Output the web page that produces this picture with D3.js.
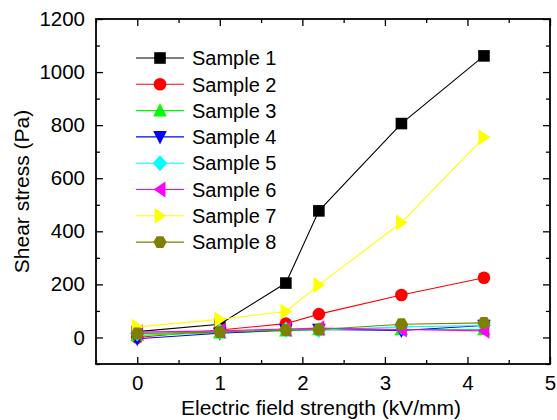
<!DOCTYPE html>
<html>
<head>
<meta charset="utf-8">
<script src="https://cdn.jsdelivr.net/npm/d3@7"></script>
<style>
  html, body { margin: 0; padding: 0; background: #fff; }
  svg { display: block; font-family: "Liberation Sans", Arial, sans-serif; }
</style>
</head>
<body>
<svg id="chart" width="557" height="420"></svg>
<script>
// Electric field strength (kV/mm) at which each sample was measured
const fieldStrength = [0, 1, 1.8, 2.2, 3.2, 4.2];

// Shear stress (Pa) per sample
const sample1 = [22, 50, 205, 477, 806, 1061];
const sample2 = [0, 28, 52, 88, 160, 225];
const sample3 = [8, 18, 25, 30, 30, 30];
const sample4 = [-5, 16, 28, 30, 26, 45];
const sample5 = [15, 22, 30, 28, 40, 45];
const sample6 = [20, 25, 32, 35, 30, 25];
const sample7 = [40, 68, 98, 198, 433, 754];
const sample8 = [15, 20, 28, 30, 50, 55];

const seriesNames = ["Sample 1", "Sample 2", "Sample 3", "Sample 4",
                     "Sample 5", "Sample 6", "Sample 7", "Sample 8"];
const seriesValues = [sample1, sample2, sample3, sample4,
                      sample5, sample6, sample7, sample8];
const seriesColors = ["#000000", "#ff0000", "#00ff00", "#0000ff",
                      "#00ffff", "#ff00ff", "#ffff00", "#808000"];
const seriesShapes = ["square", "circle", "triangleUp", "triangleDown",
                      "diamond", "triangleLeft", "triangleRight", "hexagon"];

const xTicks = [0, 1, 2, 3, 4, 5];
const yTicks = [0, 200, 400, 600, 800, 1000, 1200];
const xMinorTicks = [-0.5, 0.5, 1.5, 2.5, 3.5, 4.5];
const yMinorTicks = [-100, 100, 300, 500, 700, 900, 1100];

const xLabel = "Electric field strength (kV/mm)";
const yLabel = "Shear stress (Pa)";

// ---- layout ----
const plotLeft = 96, plotRight = 550, plotTop = 19, plotBottom = 364;
const svg = d3.select("#chart");

const x = d3.scaleLinear().domain([-0.5, 5]).range([plotLeft, plotRight]);
const y = d3.scaleLinear().domain([-100, 1200]).range([plotBottom, plotTop]);

// custom marker shapes; "size" is used as the half-width in px
function polygon(pts) {
  return { draw(ctx, r) {
    pts.forEach((p, i) => i ? ctx.lineTo(p[0] * r, p[1] * r) : ctx.moveTo(p[0] * r, p[1] * r));
    ctx.closePath();
  }};
}
const shapeTypes = {
  square: polygon([[-1, -1], [1, -1], [1, 1], [-1, 1]]),
  circle: { draw(ctx, r) { ctx.moveTo(r, 0); ctx.arc(0, 0, r, 0, 2 * Math.PI); } },
  triangleUp: polygon([[0, -1.1], [1, 0.85], [-1, 0.85]]),
  triangleDown: polygon([[0, 1.1], [1, -0.85], [-1, -0.85]]),
  diamond: polygon([[0, -1.1], [1, 0], [0, 1.1], [-1, 0]]),
  triangleLeft: polygon([[-1, 0], [0.85, -1.25], [0.85, 1.25]]),
  triangleRight: polygon([[1, 0], [-0.85, -1.25], [-0.85, 1.25]]),
  hexagon: polygon([[-1, 0], [-0.5, -0.9], [0.5, -0.9], [1, 0], [0.5, 0.9], [-0.5, 0.9]])
};
const shapeRadius = {
  square: 5.8, circle: 6.3, triangleUp: 6.8, triangleDown: 6.8,
  diamond: 7.3, triangleLeft: 6.4, triangleRight: 6.4, hexagon: 6.6
};
const marker = shape => d3.symbol().type(shapeTypes[shape]).size(shapeRadius[shape])();

// ---- axes (ticks point inward on all four sides) ----
const tickFont = "20.5px";
function styleAxis(g) {
  g.select(".domain").remove();
  g.selectAll("line").attr("stroke", "#000").attr("stroke-width", 1.3);
  g.selectAll("text").attr("fill", "#000").style("font-size", tickFont)
    .style("font-family", '"Liberation Sans", Arial, sans-serif');
}

svg.append("g").attr("transform", `translate(0,${plotBottom})`)
  .call(d3.axisBottom(x).tickValues(xTicks).tickFormat(d3.format("d")).tickSize(-7).tickPadding(11))
  .call(styleAxis);
svg.append("g").attr("transform", `translate(0,${plotBottom})`)
  .call(d3.axisBottom(x).tickValues(xMinorTicks).tickFormat("").tickSize(-4))
  .call(styleAxis);
svg.append("g").attr("transform", `translate(0,${plotTop})`)
  .call(d3.axisTop(x).tickValues(xTicks).tickFormat("").tickSize(-7))
  .call(styleAxis);
svg.append("g").attr("transform", `translate(0,${plotTop})`)
  .call(d3.axisTop(x).tickValues(xMinorTicks).tickFormat("").tickSize(-4))
  .call(styleAxis);

svg.append("g").attr("transform", `translate(${plotLeft},0)`)
  .call(d3.axisLeft(y).tickValues(yTicks).tickFormat(d3.format("d")).tickSize(-7).tickPadding(11))
  .call(styleAxis);
svg.append("g").attr("transform", `translate(${plotLeft},0)`)
  .call(d3.axisLeft(y).tickValues(yMinorTicks).tickFormat("").tickSize(-4))
  .call(styleAxis);
svg.append("g").attr("transform", `translate(${plotRight},0)`)
  .call(d3.axisRight(y).tickValues(yTicks).tickFormat("").tickSize(-7))
  .call(styleAxis);
svg.append("g").attr("transform", `translate(${plotRight},0)`)
  .call(d3.axisRight(y).tickValues(yMinorTicks).tickFormat("").tickSize(-4))
  .call(styleAxis);

// plot frame
svg.append("rect")
  .attr("x", plotLeft).attr("y", plotTop)
  .attr("width", plotRight - plotLeft).attr("height", plotBottom - plotTop)
  .attr("fill", "none").attr("stroke", "#000").attr("stroke-width", 1.8);

// axis titles
svg.append("text")
  .attr("x", 321).attr("y", 415)
  .attr("text-anchor", "middle")
  .style("font-size", "21px")
  .text(xLabel);
svg.append("text")
  .attr("transform", `translate(28.5,${(plotTop + plotBottom) / 2}) rotate(-90)`)
  .attr("text-anchor", "middle")
  .style("font-size", "21px")
  .text(yLabel);

// ---- series ----
const line = d3.line().x((d, i) => x(fieldStrength[i])).y(d => y(d));

seriesValues.forEach((vals, s) => {
  const g = svg.append("g");
  g.append("path")
    .attr("d", line(vals))
    .attr("fill", "none")
    .attr("stroke", seriesColors[s])
    .attr("stroke-width", 1.1);
  g.selectAll("path.pt")
    .data(vals)
    .join("path")
    .attr("class", "pt")
    .attr("transform", (d, i) => `translate(${x(fieldStrength[i])},${y(d)})`)
    .attr("d", marker(seriesShapes[s]))
    .attr("fill", seriesColors[s]);
});

// ---- legend ----
const legendTop = 58, legendStep = 26.3;
const legend = svg.append("g");
seriesNames.forEach((name, s) => {
  const cy = legendTop + s * legendStep;
  legend.append("line")
    .attr("x1", 136).attr("x2", 184).attr("y1", cy).attr("y2", cy)
    .attr("stroke", seriesColors[s]).attr("stroke-width", 1.1);
  legend.append("path")
    .attr("transform", `translate(160,${cy})`)
    .attr("d", marker(seriesShapes[s]))
    .attr("fill", seriesColors[s]);
  legend.append("text")
    .attr("x", 192).attr("y", cy).attr("dy", "0.36em")
    .style("font-size", "20px")
    .text(name);
});
</script>
</body>
</html>
